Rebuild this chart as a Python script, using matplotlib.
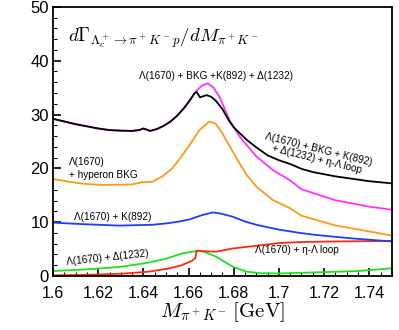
import matplotlib
matplotlib.use("Agg")
import matplotlib.pyplot as plt
from matplotlib.ticker import MultipleLocator

plt.rcParams['mathtext.fontset'] = 'cm'
plt.rcParams['font.family'] = ['Liberation Sans', 'DejaVu Sans']

# Data
m_black = [1.600, 1.605, 1.610, 1.615, 1.620, 1.625, 1.630, 1.635, 1.638, 1.640, 1.642, 1.643, 1.646, 1.649,
           1.652, 1.655, 1.658, 1.661, 1.6625, 1.6636, 1.665, 1.6665, 1.668, 1.670, 1.672, 1.675, 1.678, 1.680,
           1.683, 1.686, 1.690, 1.695, 1.700, 1.705, 1.710, 1.715, 1.720, 1.725, 1.730, 1.735, 1.740, 1.745, 1.750]
v_black = [29.2, 28.7, 28.2, 27.8, 27.4, 27.1, 27.0, 26.95, 27.1, 27.4, 27.1, 26.95, 27.3, 27.9,
           28.7, 29.8, 31.2, 32.9, 33.9, 34.2, 33.2, 33.4, 33.6, 33.3, 32.6, 31.0, 28.8, 27.6,
           26.4, 25.2, 23.9, 22.4, 21.5, 20.8, 19.9, 19.3, 18.9, 18.5, 18.2, 17.9, 17.6, 17.4, 17.2]

m_mag = [1.600, 1.605, 1.610, 1.615, 1.620, 1.625, 1.630, 1.635, 1.638, 1.640, 1.642, 1.643, 1.646, 1.649,
         1.652, 1.655, 1.658, 1.661, 1.6635, 1.666, 1.6685, 1.671, 1.6737, 1.6781, 1.6826, 1.690, 1.6973,
         1.7048, 1.710, 1.7247, 1.7395, 1.750]
v_mag = [29.2, 28.7, 28.2, 27.8, 27.4, 27.1, 27.0, 26.95, 27.1, 27.4, 27.1, 26.95, 27.3, 27.9,
         28.7, 29.8, 31.2, 32.9, 34.4, 35.4, 35.8, 35.0, 33.3, 29.0, 25.9, 22.2, 19.7,
         17.8, 16.1, 14.1, 12.9, 12.3]

m_orange = [1.600, 1.607, 1.614, 1.622, 1.630, 1.635, 1.6395, 1.644, 1.6484, 1.6528, 1.6565, 1.6604, 1.6648,
            1.6692, 1.672, 1.675, 1.6786, 1.6826, 1.686, 1.690, 1.6973, 1.7048, 1.710, 1.7247, 1.7395, 1.750]
v_orange = [18.0, 17.5, 17.1, 16.9, 16.95, 17.0, 17.4, 17.5, 18.5, 20.0, 22.0, 24.3, 27.1,
            28.7, 28.3, 26.5, 23.8, 20.9, 18.6, 16.6, 14.1, 12.6, 11.2, 9.4, 8.3, 7.5]

m_blue = [1.600, 1.614, 1.629, 1.644, 1.651, 1.6558, 1.6604, 1.666, 1.6707, 1.674, 1.6796, 1.685, 1.690,
          1.6944, 1.700, 1.709, 1.7166, 1.7314, 1.750]
v_blue = [9.9, 9.6, 9.35, 9.5, 9.8, 10.1, 10.5, 11.3, 11.8, 11.6, 11.0, 10.1, 9.5,
          9.1, 8.6, 8.0, 7.6, 7.0, 6.4]

m_red = [1.600, 1.615, 1.630, 1.640, 1.6426, 1.6515, 1.657, 1.6615, 1.663, 1.6636, 1.666, 1.6722, 1.6796,
         1.690, 1.700, 1.710, 1.725, 1.750]
v_red = [0.1, 0.2, 0.4, 0.7, 0.8, 1.4, 2.0, 2.8, 3.3, 4.7, 4.6, 4.5, 5.1,
         5.6, 6.1, 6.3, 6.4, 6.5]

m_green = [1.600, 1.610, 1.620, 1.630, 1.640, 1.6426, 1.650, 1.6574, 1.6633, 1.6648, 1.668, 1.672, 1.676,
           1.6796, 1.6855, 1.6915, 1.700, 1.720, 1.735, 1.750]
v_green = [0.9, 1.1, 1.35, 1.7, 2.3, 2.5, 3.2, 4.2, 4.6, 4.7, 4.3, 3.6, 2.6,
           1.7, 0.8, 0.5, 0.45, 0.7, 0.9, 1.4]

x_ticks = [1.6, 1.62, 1.64, 1.66, 1.68, 1.7, 1.72, 1.74]
x_ticklabels = ['1.6', '1.62', '1.64', '1.66', '1.68', '1.7', '1.72', '1.74']
y_ticks = [0, 10, 20, 30, 40, 50]

fig = plt.figure(figsize=(3.99, 3.30), dpi=100)
ax = fig.add_axes([0.133, 0.164, 0.849, 0.815])

lw = 1.3
ax.plot(m_green, v_green, color='#22dd22', lw=lw)
ax.plot(m_red, v_red, color='#ff2a10', lw=lw)
ax.plot(m_blue, v_blue, color='#1f3cff', lw=lw)
ax.plot(m_orange, v_orange, color='#ff9a1a', lw=lw)
ax.plot(m_mag, v_mag, color='#ff33ff', lw=lw)
ax.plot(m_black, v_black, color='black', lw=lw)

ax.set_xlim(1.6, 1.75)
ax.set_ylim(0, 50)
ax.set_xticks(x_ticks)
ax.set_xticklabels(x_ticklabels)
ax.set_yticks(y_ticks)
ax.xaxis.set_minor_locator(MultipleLocator(0.005))
ax.yaxis.set_minor_locator(MultipleLocator(2))
ax.tick_params(which='both', direction='in', top=False, right=False)
ax.tick_params(which='major', length=6, width=1.2)
ax.tick_params(which='minor', length=3, width=0.8)
ax.tick_params(axis='x', labelsize=11.5, pad=7)
ax.tick_params(axis='y', labelsize=12, pad=3)
for s in ax.spines.values():
    s.set_linewidth(1.3)

ax.text(0.045, 0.93, r'$d\Gamma_{\Lambda_c^+\to\pi^+K^-p}/dM_{\pi^+K^-}$', transform=ax.transAxes,
        fontsize=13.5, ha='left', va='top')
ax.set_xlabel(r'$M_{\pi^+K^-}\,[\mathrm{GeV}]$', fontsize=15, labelpad=0)

fs = 7.2
ax.text(1.6382, 37.2, 'Λ(1670) + BKG +K(892) + Δ(1232)', fontsize=fs, ha='left', va='center')
ax.text(1.6071, 20.0, 'Λ(1670)\n+ hyperon BKG', fontsize=fs, ha='left', va='center', linespacing=1.3)
ax.text(1.6093, 11.0, 'Λ(1670) + K(892)', fontsize=fs, ha='left', va='center')
ax.text(1.6058, 2.6, 'Λ(1670) + Δ(1232)', fontsize=fs, ha='left', va='center', rotation=6,
        rotation_mode='anchor')
ax.text(1.6892, 4.8, 'Λ(1670) + η-Λ loop', fontsize=fs, ha='left', va='center')
ax.text(1.7172, 22.6, 'Λ(1670) + BKG + K(892)\n+ Δ(1232) + η-Λ loop', fontsize=fs, ha='center', va='center',
        rotation=-14, linespacing=1.1, rotation_mode='anchor')

fig.savefig('out.png', dpi=100)
